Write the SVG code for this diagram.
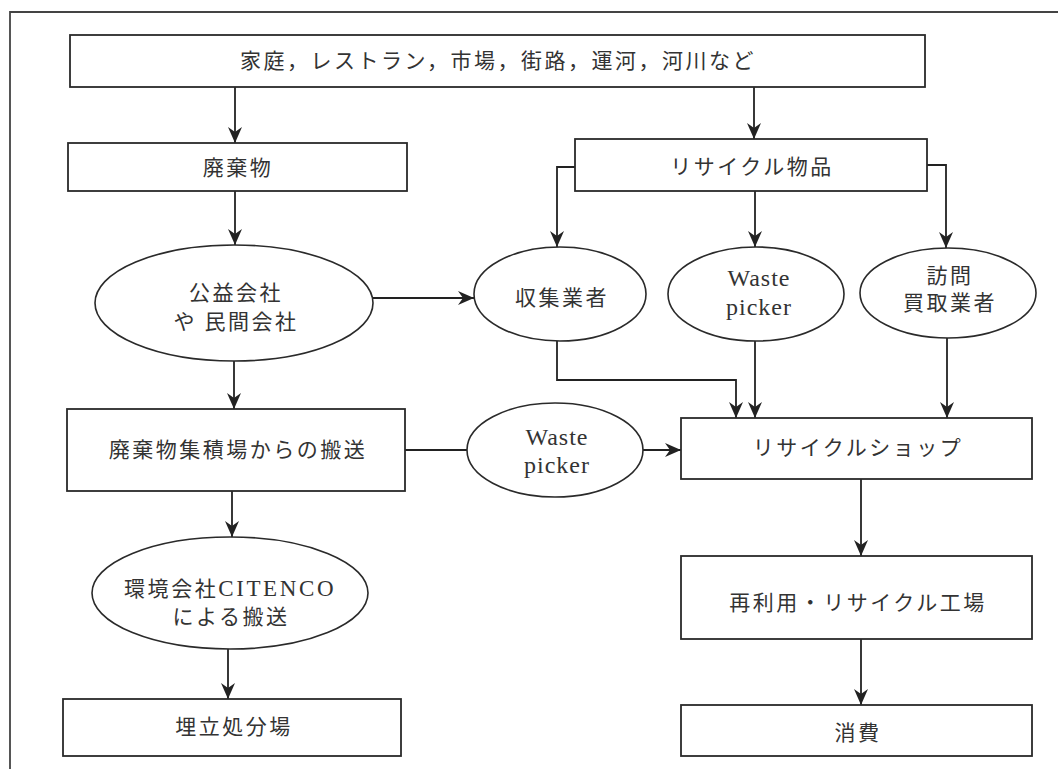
<svg xmlns="http://www.w3.org/2000/svg" width="1058" height="769" viewBox="0 0 1058 769">
<style>
.box{fill:#fff;stroke:#2a2a2a;stroke-width:1.8}
.ell{fill:#fff;stroke:#2a2a2a;stroke-width:1.6}
.con{fill:none;stroke:#222;stroke-width:1.8}
.t{font-family:"Liberation Serif","Noto Sans CJK JP",serif;font-size:21px;fill:#333;text-anchor:middle;letter-spacing:2.5px}
.lat{letter-spacing:1px;font-size:24px}
</style>
<defs>
<marker id="ah" viewBox="0 0 16 14" markerWidth="16" markerHeight="14" refX="16" refY="7" orient="auto" markerUnits="userSpaceOnUse">
<path d="M0,0 L16,7 L0,14 L5,7 Z" fill="#222"/>
</marker>
</defs>
<rect width="1058" height="769" fill="#fff"/>
<path d="M10,769 V12 H1058" fill="none" stroke="#444" stroke-width="1.8"/>

<g id="connectors">
<path class="con" d="M235,87 V143" marker-end="url(#ah)"/>
<path class="con" d="M754,87 V139" marker-end="url(#ah)"/>
<path class="con" d="M235,191 V245" marker-end="url(#ah)"/>
<path class="con" d="M575,167 H557 V247" marker-end="url(#ah)"/>
<path class="con" d="M755,191 V247" marker-end="url(#ah)"/>
<path class="con" d="M927,165 H946 V248" marker-end="url(#ah)"/>
<path class="con" d="M373,298 H474" marker-end="url(#ah)"/>
<path class="con" d="M557,341 V380 H736 V418" marker-end="url(#ah)"/>
<path class="con" d="M755,341 V418" marker-end="url(#ah)"/>
<path class="con" d="M947,338 V418" marker-end="url(#ah)"/>
<path class="con" d="M234,361 V409" marker-end="url(#ah)"/>
<path class="con" d="M405,450 H467"/>
<path class="con" d="M643,450 H681" marker-end="url(#ah)"/>
<path class="con" d="M232,491 V537" marker-end="url(#ah)"/>
<path class="con" d="M228,649 V699" marker-end="url(#ah)"/>
<path class="con" d="M861,479 V556" marker-end="url(#ah)"/>
<path class="con" d="M861,639 V705" marker-end="url(#ah)"/>
</g>

<g id="sources">
<rect class="box" x="70" y="35" width="855" height="52"/>
<text class="t" x="498" y="68">家庭，レストラン，市場，街路，運河，河川など</text>
</g>
<g id="waste">
<rect class="box" x="68" y="143" width="339" height="48"/>
<text class="t" x="238" y="175">廃棄物</text>
</g>
<g id="recycle-goods">
<rect class="box" x="575" y="139" width="352" height="52"/>
<text class="t" x="752" y="174">リサイクル物品</text>
</g>
<g id="companies">
<ellipse class="ell" cx="234" cy="303" rx="139" ry="58"/>
<text class="t" x="236" y="300">公益会社</text>
<text class="t" x="236" y="329">や 民間会社</text>
</g>
<g id="collector">
<ellipse class="ell" cx="560" cy="294" rx="86" ry="47"/>
<text class="t" x="562" y="305">収集業者</text>
</g>
<g id="waste-picker-1">
<ellipse class="ell" cx="756" cy="294" rx="88" ry="47"/>
<text class="t lat" x="759" y="286">Waste</text>
<text class="t lat" x="759" y="315">picker</text>
</g>
<g id="door-buyer">
<ellipse class="ell" cx="948" cy="293" rx="88" ry="45"/>
<text class="t" x="950" y="283">訪問</text>
<text class="t" x="950" y="310">買取業者</text>
</g>
<g id="transfer">
<rect class="box" x="67" y="409" width="338" height="82"/>
<text class="t" x="238" y="457">廃棄物集積場からの搬送</text>
</g>
<g id="waste-picker-2">
<ellipse class="ell" cx="555" cy="450" rx="88" ry="47"/>
<text class="t lat" x="557" y="445">Waste</text>
<text class="t lat" x="557" y="473">picker</text>
</g>
<g id="recycle-shop">
<rect class="box" x="681" y="418" width="351" height="61"/>
<text class="t" x="858" y="455">リサイクルショップ</text>
</g>
<g id="citenco">
<ellipse class="ell" cx="230" cy="593" rx="138" ry="56"/>
<text class="t" x="230" y="596" textLength="212" lengthAdjust="spacing">環境会社<tspan font-size="23">CITENCO</tspan></text>
<text class="t" x="231" y="624">による搬送</text>
</g>
<g id="landfill">
<rect class="box" x="63" y="699" width="338" height="57"/>
<text class="t" x="234" y="734">埋立処分場</text>
</g>
<g id="reuse-factory">
<rect class="box" x="681" y="556" width="351" height="83"/>
<text class="t" x="858" y="610">再利用・リサイクル工場</text>
</g>
<g id="consumption">
<rect class="box" x="681" y="705" width="351" height="51"/>
<text class="t" x="858" y="740">消費</text>
</g>
</svg>
